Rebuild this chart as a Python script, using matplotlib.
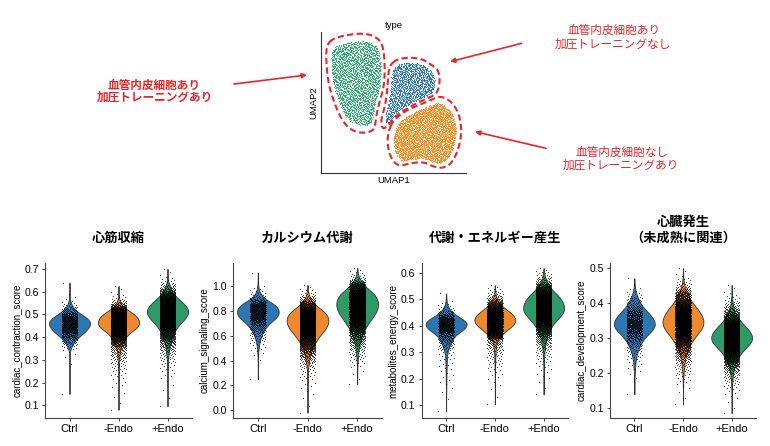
import numpy as np
import matplotlib
matplotlib.use('Agg')
import matplotlib.pyplot as plt
from matplotlib.path import Path

plt.rcParams['font.family'] = ['Liberation Sans', 'Noto Sans CJK JP', 'DejaVu Sans']

W, H = 770, 446
RED = '#e8262a'

# ---- data ----
groups = ['Ctrl', '-Endo', '+Endo']
group_colors = ['#2a77b3', '#f0892b', '#2e9a67']
n_cells = [650, 2600, 2600]

# quantile levels read for every violin
probs = [0, 0.002, 0.01, 0.05, 0.25, 0.5, 0.75, 0.95, 0.99, 0.998, 1]

contraction_q = [
    [0.15, 0.30, 0.35, 0.38, 0.425, 0.455, 0.482, 0.52, 0.55, 0.585, 0.64],
    [0.08, 0.18, 0.27, 0.36, 0.43, 0.46, 0.49, 0.525, 0.55, 0.58, 0.625],
    [0.095, 0.22, 0.30, 0.38, 0.465, 0.505, 0.54, 0.59, 0.625, 0.655, 0.70],
]
calcium_q = [
    [0.25, 0.42, 0.50, 0.60, 0.72, 0.78, 0.835, 0.90, 0.96, 1.02, 1.108],
    [-0.02, 0.18, 0.33, 0.47, 0.62, 0.70, 0.77, 0.85, 0.91, 0.96, 1.01],
    [0.21, 0.35, 0.45, 0.58, 0.74, 0.83, 0.91, 1.00, 1.05, 1.10, 1.146],
]
metabolites_q = [
    [0.077, 0.13, 0.20, 0.31, 0.375, 0.40, 0.42, 0.45, 0.475, 0.50, 0.522],
    [0.104, 0.20, 0.27, 0.35, 0.395, 0.42, 0.445, 0.48, 0.51, 0.535, 0.553],
    [0.141, 0.22, 0.29, 0.36, 0.43, 0.465, 0.50, 0.545, 0.575, 0.60, 0.617],
]
development_q = [
    [0.139, 0.19, 0.22, 0.265, 0.315, 0.34, 0.365, 0.405, 0.43, 0.45, 0.471],
    [0.11, 0.17, 0.21, 0.26, 0.315, 0.345, 0.375, 0.42, 0.445, 0.47, 0.50],
    [0.085, 0.14, 0.18, 0.225, 0.275, 0.30, 0.325, 0.365, 0.395, 0.42, 0.452],
]

titles = ['心筋収縮', 'カルシウム代謝', '代謝・エネルギー産生', '心臓発生\n（未成熟に関連）']
ylabels = ['cardiac_contraction_score', 'calcium_signaling_score',
           'metabolites_energy_score', 'cardiac_development_score']
yticks = [
    [0.1, 0.2, 0.3, 0.4, 0.5, 0.6, 0.7],
    [0.0, 0.2, 0.4, 0.6, 0.8, 1.0],
    [0.1, 0.2, 0.3, 0.4, 0.5, 0.6],
    [0.1, 0.2, 0.3, 0.4, 0.5],
]
ylims = [(0.044, 0.726), (-0.063, 1.187), (0.052, 0.637), (0.071, 0.515)]
scores = [contraction_q, calcium_q, metabolites_q, development_q]

# UMAP cluster outlines (UMAP coordinates)
umap_labels = ['+Endo', 'Ctrl', '-Endo']
umap_colors = ['#2ba36e', '#2a6fb2', '#fb8a1d']
umap_counts = [2000, 1150, 2400]
green_outline = [(6, 128.3), (12.6, 135), (29.3, 139), (46, 140), (57.6, 135), (62.6, 126.6),
                 (64.3, 106.6), (63.3, 86.6), (59.3, 73.3), (56, 60), (54.3, 46.6), (51, 41.6),
                 (39.3, 40), (27.6, 45), (19.3, 56.6), (12.6, 73.3), (7.6, 90), (5.3, 113.3)]
blue_outline = [(69.3, 108.3), (76, 114), (89.3, 116), (102.6, 114), (111, 108.3), (117.6, 103.3),
                (119.3, 93.3), (117.6, 83.3), (114.3, 78.3), (102.6, 73.3), (89.3, 66.6), (76, 58.3),
                (67.6, 48.3), (62, 43.3), (60, 53.3), (64.3, 66.6), (66.6, 83.3), (67.6, 100)]
orange_outline = [(67.6, 41.6), (72.6, 53.3), (86, 63.3), (102.6, 70), (116, 76), (122.6, 76.6),
                  (132.6, 70), (139.3, 56.6), (141, 40), (137.6, 23.3), (131, 10), (122.6, 5),
                  (112.6, 6.6), (102.6, 11.6), (89.3, 10), (77.6, 6.6), (69.3, 16.6), (66.6, 30)]
outlines = [green_outline, blue_outline, orange_outline]


def smooth_closed(pts, iters=3):
    p = np.asarray(pts, float)
    for _ in range(iters):
        q = np.roll(p, -1, axis=0)
        p = np.column_stack([0.75 * p + 0.25 * q, 0.25 * p + 0.75 * q]).reshape(-1, 2)
    return np.vstack([p, p[:1]])


def halton(n, base):
    seq = np.zeros(n)
    for i in range(n):
        f, r, k = 1.0, 0.0, i + 1
        while k > 0:
            f /= base
            r += f * (k % base)
            k //= base
        seq[i] = r
    return seq


def logit(p):
    p = np.clip(np.asarray(p, float), 2e-4, 1 - 2e-4)
    return np.log(p / (1 - p))


def cells_from_quantiles(q, n):
    # spread n cells over the read quantiles (logit scale keeps the shape smooth)
    u = np.linspace(0, 1, n)
    return np.interp(logit(u), logit(probs), q)


fig = plt.figure(figsize=(W / 100, H / 100), dpi=100)
fig.patch.set_facecolor('white')


def box(left, right, top, bottom):
    return [left / W, 1 - bottom / H, (right - left) / W, (bottom - top) / H]


# ---- UMAP panel ----
ax_u = fig.add_axes(box(320.7, 466, 31.7, 173.3))
for outline, col, n in zip(outlines, umap_colors, umap_counts):
    ring = smooth_closed(outline)
    c = ring[:-1].mean(axis=0)
    inner = Path(c + 0.85 * (ring - c))
    lo, hi = ring.min(axis=0), ring.max(axis=0)
    cand = np.column_stack([lo[0] + halton(4 * n, 2) * (hi[0] - lo[0]),
                            lo[1] + halton(4 * n, 3) * (hi[1] - lo[1])])
    pts = cand[inner.contains_points(cand)][:n]
    ax_u.scatter(pts[:, 0], pts[:, 1], s=0.7, c=col, linewidths=0, zorder=2)
for outline in outlines:
    ring = smooth_closed(outline)
    ax_u.plot(ring[:, 0], ring[:, 1], color=RED, lw=1.5, ls=(0, (3, 1.6)), zorder=3)
ax_u.set_xlim(0, 145.3)
ax_u.set_ylim(0, 141.6)
ax_u.set_xticks([])
ax_u.set_yticks([])
for s in ['top', 'right']:
    ax_u.spines[s].set_visible(False)
for s in ['left', 'bottom']:
    ax_u.spines[s].set_color('#333333')
    ax_u.spines[s].set_linewidth(0.8)
ax_u.set_title('type', fontsize=6.8, pad=3)
ax_u.set_xlabel('UMAP1', fontsize=6.8, labelpad=2)
ax_u.set_ylabel('UMAP2', fontsize=6.8, labelpad=2)

# ---- annotations ----
notes = [
    (['血管内皮細胞あり', '加圧トレーニングあり'], [(154, 85), (155, 97.5)], 'bold', (234, 84), (307, 75)),
    (['血管内皮細胞あり', '加圧トレーニングなし'], [(614, 30), (613, 43.8)], 'normal', (521.7, 43.3), (450, 61.7)),
    (['血管内皮細胞なし', '加圧トレーニングあり'], [(622, 152.8), (621, 165.7)], 'normal', (546, 148.3), (475, 131.7)),
]
for lines, xy, weight, tail, head in notes:
    for line, (x, y) in zip(lines, xy):
        fig.text(x / W, 1 - y / H, line, color=RED, fontsize=8.4, fontweight=weight,
                 ha='center', va='center', family=['Noto Sans CJK JP', 'DejaVu Sans'])
    fig.add_artist(plt.Annotation('', xy=(head[0], H - head[1]), xytext=(tail[0], H - tail[1]),
                                  xycoords='figure pixels', textcoords='figure pixels',
                                  arrowprops=dict(arrowstyle='-|>', color=RED, lw=1.2,
                                                  mutation_scale=7, shrinkA=0, shrinkB=0)))

# ---- violin panels ----
boxes = [(45, 192), (233, 382), (421.7, 568), (610, 756)]
positions = [1, 2, 3]
for k in range(4):
    left, right = boxes[k]
    ax = fig.add_axes(box(left, right, 263, 418))
    data = [cells_from_quantiles(q, n) for q, n in zip(scores[k], n_cells)]
    parts = ax.violinplot(data, positions=positions, widths=0.84, showextrema=False,
                          points=250, bw_method=0.3)
    for body, col in zip(parts['bodies'], group_colors):
        body.set_facecolor(col)
        body.set_edgecolor('#333333')
        body.set_linewidth(0.6)
        body.set_alpha(1)
        body.set_zorder(1)
    for pos, vals in zip(positions, data):
        idx = np.arange(len(vals))
        jit = ((idx * 0.6180339887) % 1 - 0.5) * 0.32
        ax.scatter(pos + jit, vals, s=0.4, c='black', linewidths=0, alpha=0.85, zorder=2)
    ax.set_xlim(0.5, 3.5)
    ax.set_ylim(*ylims[k])
    ax.set_xticks(positions)
    ax.set_xticklabels(groups, fontsize=8)
    ax.set_yticks(yticks[k])
    ax.set_yticklabels([f'{v:.1f}' for v in yticks[k]], fontsize=7.5)
    ax.tick_params(length=2.5, width=0.7, color='#444444', pad=2)
    for s in ['top', 'right']:
        ax.spines[s].set_visible(False)
    for s in ['left', 'bottom']:
        ax.spines[s].set_color('#444444')
        ax.spines[s].set_linewidth(0.8)
    ax.set_ylabel(ylabels[k], fontsize=7, labelpad=2)
    ax.set_title(titles[k], fontsize=9.5, fontweight='bold', pad=15,
                 family=['Noto Sans CJK JP', 'DejaVu Sans'], linespacing=1.25)

fig.savefig('out.png', dpi=100)
